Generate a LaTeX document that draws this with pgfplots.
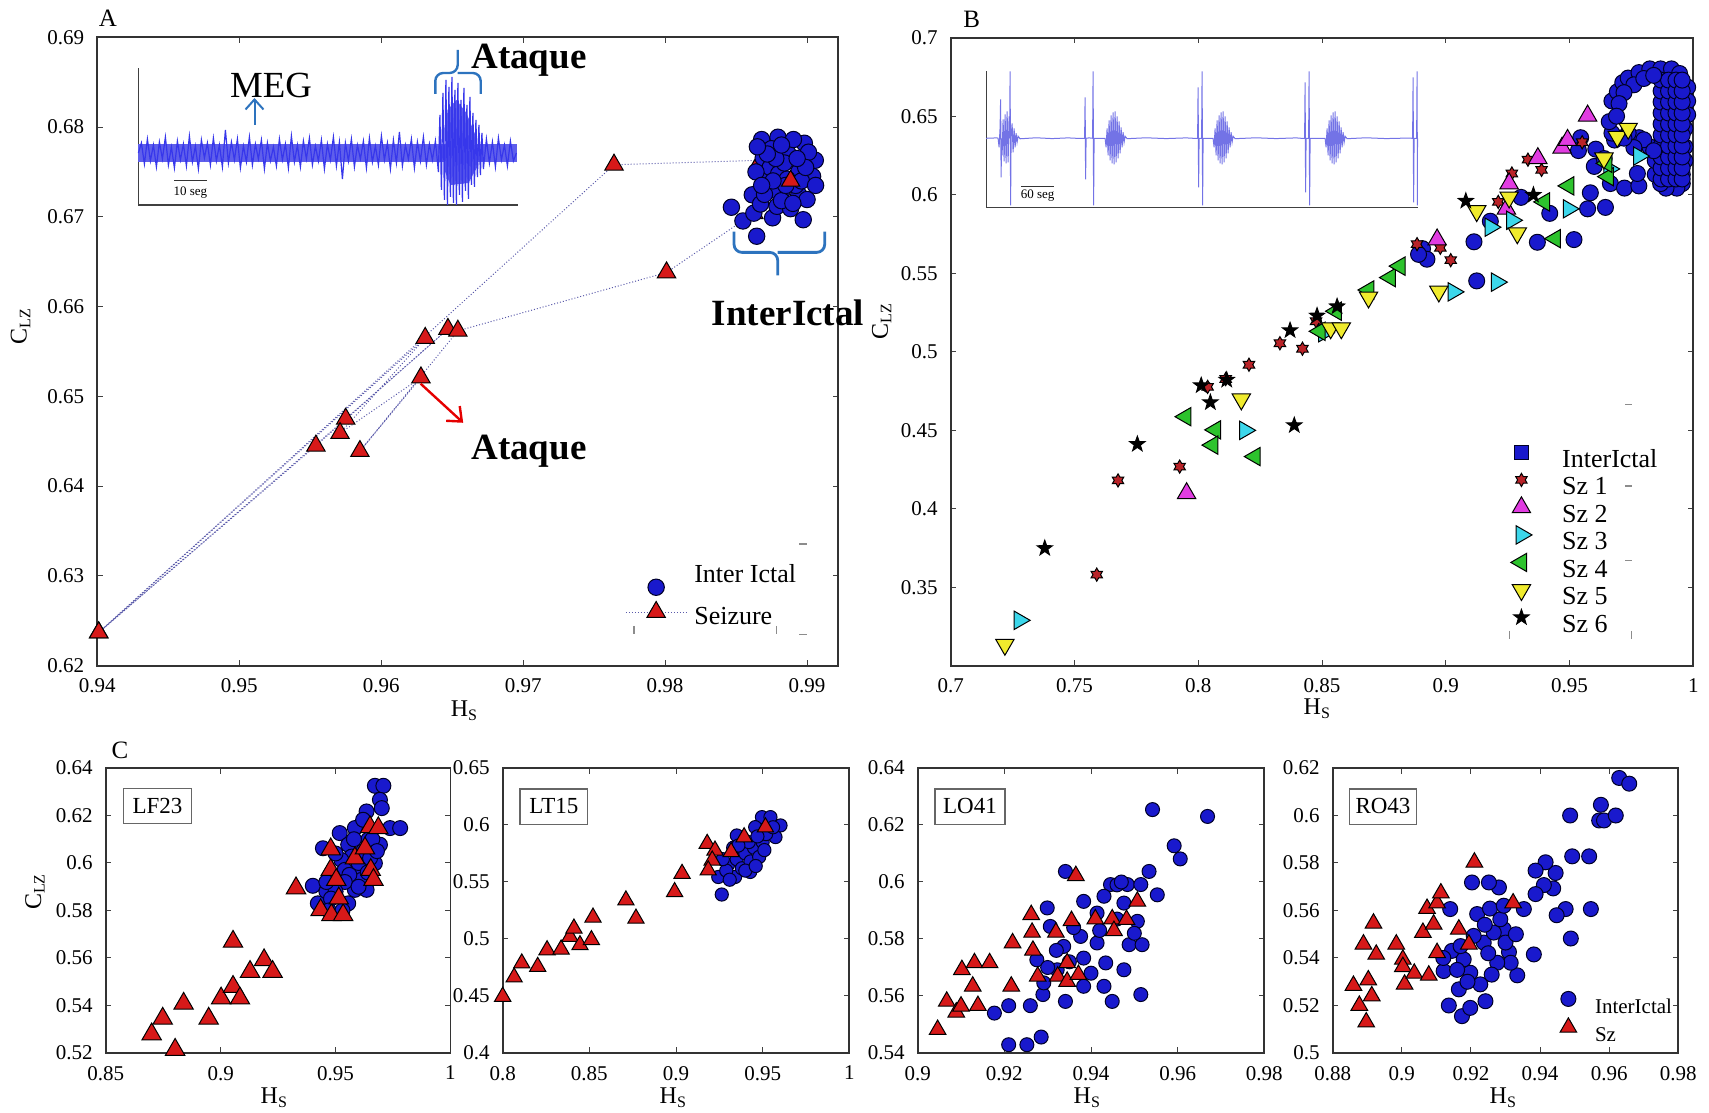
\documentclass[border=0pt]{standalone}
\usepackage{pgfplots}
\pgfplotsset{compat=1.18}
\usepackage{fontspec}
\setmainfont{Liberation Serif}
\usetikzlibrary{arrows.meta}

\definecolor{ibl}{RGB}{25,25,205}
\definecolor{szred}{RGB}{215,25,25}
\definecolor{sza}{RGB}{185,35,40}
\definecolor{szb}{RGB}{225,60,225}
\definecolor{szc}{RGB}{60,215,235}
\definecolor{szd}{RGB}{45,195,45}
\definecolor{sze}{RGB}{240,235,45}
\definecolor{sigA}{RGB}{55,55,235}
\definecolor{sigAfill}{RGB}{95,95,235}
\definecolor{sigB}{RGB}{115,115,230}
\definecolor{annblue}{RGB}{45,115,190}
\definecolor{pathc}{RGB}{90,90,170}

\newcommand\ticksize{\fontsize{10.5}{12}\selectfont}
\newcommand\legfont{\fontsize{13}{15}\selectfont}
\newcommand\legsmall{\fontsize{10.5}{12}\selectfont}
\newcommand\labfont{\fontsize{12}{14}\selectfont}

% six-pointed and five-pointed filled stars
\pgfdeclareplotmark{hexstar}{%
  \pgfpathmoveto{\pgfpointpolar{90}{\pgfplotmarksize}}%
  \pgfpathlineto{\pgfpointpolar{120}{0.577\pgfplotmarksize}}%
  \pgfpathlineto{\pgfpointpolar{150}{\pgfplotmarksize}}%
  \pgfpathlineto{\pgfpointpolar{180}{0.577\pgfplotmarksize}}%
  \pgfpathlineto{\pgfpointpolar{210}{\pgfplotmarksize}}%
  \pgfpathlineto{\pgfpointpolar{240}{0.577\pgfplotmarksize}}%
  \pgfpathlineto{\pgfpointpolar{270}{\pgfplotmarksize}}%
  \pgfpathlineto{\pgfpointpolar{300}{0.577\pgfplotmarksize}}%
  \pgfpathlineto{\pgfpointpolar{330}{\pgfplotmarksize}}%
  \pgfpathlineto{\pgfpointpolar{0}{0.577\pgfplotmarksize}}%
  \pgfpathlineto{\pgfpointpolar{30}{\pgfplotmarksize}}%
  \pgfpathlineto{\pgfpointpolar{60}{0.577\pgfplotmarksize}}%
  \pgfpathclose
  \pgfusepathqfillstroke
}
\pgfdeclareplotmark{pentstar}{%
  \pgfpathmoveto{\pgfpointpolar{90}{\pgfplotmarksize}}%
  \pgfpathlineto{\pgfpointpolar{126}{0.4\pgfplotmarksize}}%
  \pgfpathlineto{\pgfpointpolar{162}{\pgfplotmarksize}}%
  \pgfpathlineto{\pgfpointpolar{198}{0.4\pgfplotmarksize}}%
  \pgfpathlineto{\pgfpointpolar{234}{\pgfplotmarksize}}%
  \pgfpathlineto{\pgfpointpolar{270}{0.4\pgfplotmarksize}}%
  \pgfpathlineto{\pgfpointpolar{306}{\pgfplotmarksize}}%
  \pgfpathlineto{\pgfpointpolar{342}{0.4\pgfplotmarksize}}%
  \pgfpathlineto{\pgfpointpolar{18}{\pgfplotmarksize}}%
  \pgfpathlineto{\pgfpointpolar{54}{0.4\pgfplotmarksize}}%
  \pgfpathclose
  \pgfusepathqfillstroke
}

\pgfplotsset{
  panel/.style={scale only axis, anchor=south west, clip=false,
    axis line style={black!80,line width=0.9pt},
    tick align=inside, tick style={black!75,line width=0.5pt}, major tick length=2.8pt,
    tick label style={font=\ticksize},
    /pgf/number format/assume math mode=true, /pgf/number format/fixed,
    scaled ticks=false,
    xticklabel style={yshift=-3pt}, yticklabel style={xshift=-3pt}},
  inter/.style={only marks, mark=*, mark size=#1,
    mark options={fill=ibl, draw=black!85!blue, line width=0.5pt}},
  sztri/.style={only marks, mark=triangle*, mark size=#1,
    mark options={fill=szred, draw=black, line width=0.5pt}},
  sz/.style n args={3}{only marks, mark size=#2,
    mark options={fill=#1, draw=black, line width=0.5pt, rotate=#3}},
  inset/.style={scale only axis, anchor=south west, clip=false,
    axis x line*=bottom, axis y line*=left, xtick=\empty, ytick=\empty,
    axis line style={black!75,line width=0.6pt}},
}

\begin{document}
\begin{tikzpicture}
\useasboundingbox (0,0) rectangle (854.5pt,556.5pt);

% ---------------- A ----------------
\begin{axis}[panel, at={(48.65pt,223.65pt)}, width=370.5pt, height=314.2pt,
  xmin=0.94, xmax=0.9922, ymin=0.62, ymax=0.69,
  xtick={0.94,0.95,0.96,0.97,0.98,0.99},
  ytick={0.62,0.63,0.64,0.65,0.66,0.67,0.68,0.69},
  legend style={at={(axis cs:0.977244,0.631385)}, anchor=north west, draw=none, fill=none,
    inner sep=0pt, outer sep=0pt, row sep=7.65pt, column sep=4pt, font=\legfont,
    nodes={inner sep=0pt, text height=9.3pt, text depth=4.45pt}},
  legend cell align=left]
% seizure trajectory
\addplot[pathc, densely dotted, line width=0.5pt, mark=triangle*, mark size=5.3pt,
  mark options={solid, fill=szred, draw=black, line width=0.5pt}, forget plot]
  coordinates {(0.98672,0.67630)(0.97640,0.67580)(0.94010,0.62370)(0.95540,0.64450)
  (0.96470,0.65750)(0.95750,0.64750)(0.94010,0.62370)(0.96310,0.65650)(0.95710,0.64590)
  (0.96280,0.65210)(0.95850,0.64390)(0.96540,0.65730)(0.98010,0.66380)(0.98625,0.67040)};
% inter-ictal cluster
\addplot[inter=4.1pt, legend image code/.code={%
    \path[draw=none,fill=none] (0cm,-4pt) rectangle (1.06cm,4pt);
    \begin{pgfinterruptboundingbox}\draw[yshift=-5pt] plot coordinates {(0.53cm,0cm)};\end{pgfinterruptboundingbox}}]
  coordinates {(0.98467,0.67107)(0.98548,0.66954)(0.98625,0.67041)(0.98645,0.66784)
  (0.98757,0.66989)(0.98973,0.66968)(0.98614,0.67245)(0.98680,0.67861)(0.98795,0.67887)
  (0.98981,0.67820)(0.99058,0.67630)(0.98691,0.67656)(0.98865,0.67707)(0.98942,0.67502)
  (0.99039,0.67451)(0.98710,0.67399)(0.98826,0.67296)(0.98942,0.67245)(0.98672,0.67143)
  (0.98788,0.67117)(0.98884,0.67091)(0.99000,0.67193)(0.98749,0.67759)(0.98904,0.67861)
  (0.99010,0.67720)(0.98740,0.67550)(0.98800,0.67480)(0.98860,0.67420)(0.98920,0.67350)
  (0.98760,0.67300)(0.98700,0.67250)(0.98820,0.67180)(0.98900,0.67150)(0.98960,0.67400)
  (0.98840,0.67600)(0.98780,0.67650)(0.98720,0.67700)(0.98640,0.67500)(0.98990,0.67550)
  (0.98850,0.67350)(0.98760,0.67400)(0.98680,0.67350)(0.98930,0.67650)(0.98820,0.67800)
  (0.98650,0.67780)(0.99060,0.67350)};
\addlegendentry{Inter Ictal}
\addplot[pathc, densely dotted, line width=0.5pt, mark=triangle*, mark size=5.3pt,
  mark options={solid, fill=szred, draw=black, line width=0.5pt},
  legend image code/.code={%
    \path[draw=none,fill=none] (0cm,-4pt) rectangle (1.06cm,4pt);
    \begin{pgfinterruptboundingbox}\draw[yshift=4pt, mark repeat=2, mark phase=2] plot coordinates {(0cm,0cm)(0.53cm,0cm)(1.06cm,0cm)};\end{pgfinterruptboundingbox}}]
  coordinates {(0.98884,0.67400)};
\addlegendentry{Seizure}
\end{axis}

% MEG trace
\begin{axis}[inset, at={(69.2pt,454pt)}, width=189.8pt, height=68.4pt,
  xmin=0, xmax=379.6, ymin=0, ymax=136.8]
\addplot[draw=none, fill=sigAfill] coordinates {(0,43)(379,43)(379,61)(0,61)};
\addplot[draw=none, fill=sigAfill] coordinates {(306,35)(309,95)(318,105)(328,92)(337,70)(340,40)(330,22)(312,20)};
\addplot[sigA, line width=0.6pt] coordinates {
(0,52)(3,62)(6,41)(9,66)(12,44)(15,60)(18,38)(21,63)(24,46)(27,68)(30,40)(33,58)(36,37)(39,64)
(42,45)(45,61)(48,39)(51,69)(54,43)(57,59)(60,36)(63,65)(66,47)(69,62)(72,40)(75,67)(78,44)
(81,60)(84,38)(87,75)(90,42)(93,63)(96,45)(99,66)(102,37)(105,59)(108,43)(111,68)(114,40)
(117,61)(120,46)(123,65)(126,36)(129,62)(132,44)(135,58)(138,39)(141,66)(144,45)(147,61)
(150,37)(153,69)(156,43)(159,60)(162,38)(165,64)(168,46)(171,67)(174,40)(177,59)(180,44)
(183,65)(186,36)(189,61)(192,45)(195,68)(198,39)(201,63)(204,26)(207,62)(210,44)(213,66)
(216,38)(219,60)(222,46)(225,64)(228,37)(231,67)(234,43)(237,59)(240,40)(243,69)(246,45)
(249,62)(252,36)(255,65)(258,42)(261,73)(264,39)(267,60)(270,46)(273,66)(276,37)(279,63)
(282,44)(285,68)(288,40)(291,61)(294,45)(297,64)
(300,33)(301.5,90)(303,15)(304.5,112)(306,5)(307.5,125)(309,0)(310.5,118)(312,8)(313.5,128)
(315,2)(316.5,115)(318,0)(319.5,122)(321,10)(322.5,105)(324,3)(325.5,117)(327,14)(328.5,100)
(330,6)(331.5,108)(333,20)(334.5,92)(336,18)(337.5,85)(339,28)(340.5,80)(342,30)(343.5,72)(345,36)
(348,66)(351,42)(354,63)(357,38)(360,67)(363,45)(366,60)(369,39)(372,64)(375,44)(378,52)};
\end{axis}

% ---------------- B ----------------
\begin{axis}[panel, at={(475.35pt,223.65pt)}, width=371.3pt, height=314pt,
  xmin=0.7, xmax=1, ymin=0.3, ymax=0.7,
  xtick={0.7,0.75,0.8,0.85,0.9,0.95,1},
  ytick={0.35,0.4,0.45,0.5,0.55,0.6,0.65,0.7},
  legend style={at={(axis cs:0.92482,0.43822)}, anchor=north west, draw=none, fill=none,
    inner sep=0pt, outer sep=0pt, row sep=0pt, column sep=13.25pt, font=\legfont,
    nodes={inner sep=0pt, text height=9.3pt, text depth=4.45pt}},
  legend cell align=left,
  legend image code/.code={%
    \path[draw=none,fill=none] (0cm,-4pt) rectangle (0.5cm,4pt);
    \begin{pgfinterruptboundingbox}\draw[yshift=5pt] plot coordinates {(0.25cm,0cm)};\end{pgfinterruptboundingbox}}]
\addplot[inter=4pt, legend image code/.code={%
    \path[draw=none,fill=none] (0cm,-4pt) rectangle (0.5cm,4pt);
    \begin{pgfinterruptboundingbox}\draw[yshift=5pt, mark=square*, mark size=3.6pt] plot coordinates {(0.25cm,0cm)};\end{pgfinterruptboundingbox}}]
  coordinates {(0.8906,0.5656)(0.8924,0.5589)(0.8890,0.5620)(0.9114,0.5700)(0.9125,0.5451)
  (0.9180,0.5831)(0.9304,0.5983)(0.9370,0.5697)(0.9420,0.5881)(0.9518,0.5714)(0.9545,0.6363)
  (0.9584,0.6012)(0.9573,0.5910)(0.9645,0.5919)(0.9665,0.6071)(0.9722,0.6042)(0.9780,0.6056)
  (0.9774,0.6135)(0.9606,0.6290)(0.9536,0.6281)(0.9682,0.6348)(0.9600,0.6180)(0.9640,0.6230)
  (0.96713,0.63922)(0.96604,0.64653)(0.96713,0.65968)(0.96932,0.66552)(0.97150,0.67136)
  (0.97369,0.67429)(0.97806,0.67779)(0.98243,0.68013)(0.98680,0.68013)(0.99118,0.68013)
  (0.99445,0.67721)(0.99773,0.66844)(0.99773,0.65968)(0.99773,0.65091)(0.99664,0.64214)
  (0.99664,0.63046)(0.99664,0.62169)(0.99555,0.61292)(0.99555,0.60708)(0.99336,0.60416)
  (0.98899,0.60416)(0.98680,0.60708)(0.98462,0.61292)(0.98462,0.62169)(0.98243,0.63046)
  (0.97806,0.63630)(0.97369,0.63922)
  (0.9870,0.610)(0.9870,0.617)(0.9870,0.624)(0.9870,0.631)(0.9870,0.638)(0.9870,0.645)(0.9870,0.652)(0.9870,0.659)(0.9870,0.666)(0.9870,0.673)
  (0.9900,0.610)(0.9900,0.617)(0.9900,0.624)(0.9900,0.631)(0.9900,0.638)(0.9900,0.645)(0.9900,0.652)(0.9900,0.659)(0.9900,0.666)(0.9900,0.673)
  (0.9930,0.610)(0.9930,0.617)(0.9930,0.624)(0.9930,0.631)(0.9930,0.638)(0.9930,0.645)(0.9930,0.652)(0.9930,0.659)(0.9930,0.666)(0.9930,0.673)
  (0.9955,0.610)(0.9955,0.617)(0.9955,0.624)(0.9955,0.631)(0.9955,0.638)(0.9955,0.645)(0.9955,0.652)(0.9955,0.659)(0.9955,0.666)(0.9955,0.673)
  (0.9760,0.6700)(0.9800,0.6740)(0.9840,0.6760)(0.9720,0.6650)(0.9700,0.6580)(0.9690,0.6500)
  (0.9800,0.6350)(0.9760,0.6300)(0.9720,0.6360)(0.9840,0.6280)};
\addlegendentry{InterIctal}
\addplot[sz={sza}{3.3pt}{0}, mark=hexstar]
  coordinates {(0.7590,0.3580)(0.7676,0.4180)(0.7925,0.4268)(0.8038,0.4776)(0.8111,0.4826)
  (0.8205,0.4917)(0.8330,0.5054)(0.8421,0.5019)(0.8476,0.5194)(0.8884,0.5685)(0.8978,0.5662)
  (0.9020,0.5583)(0.9212,0.5954)(0.9267,0.6135)(0.9332,0.6223)(0.9387,0.6158)(0.9551,0.6334)};
\addlegendentry{Sz 1}
\addplot[sz={szb}{5.3pt}{0}, mark=triangle*]
  coordinates {(0.7953,0.4098)(0.8965,0.5714)(0.9256,0.6071)(0.9245,0.5910)(0.9372,0.6232)
  (0.9470,0.6299)(0.9492,0.6348)(0.9573,0.6503)};
\addlegendentry{Sz 2}
\addplot[sz={szc}{5.3pt}{-90}, mark=triangle*]
  coordinates {(0.7278,0.3289)(0.8189,0.4499)(0.8508,0.5121)(0.9031,0.5381)(0.9206,0.5443)
  (0.9180,0.5793)(0.9267,0.5837)(0.9496,0.5910)(0.9660,0.6164)(0.9780,0.6246)};
\addlegendentry{Sz 3}
\addplot[sz={szd}{5.3pt}{90}, mark=triangle*]
  coordinates {(0.7949,0.4586)(0.8069,0.4502)(0.8058,0.4405)(0.8229,0.4332)(0.8688,0.5393)
  (0.8775,0.5472)(0.8814,0.5545)(0.8557,0.5258)(0.8491,0.5130)(0.9442,0.5720)(0.9496,0.6056)
  (0.9398,0.5954)(0.9656,0.6115)(0.9650,0.6200)};
\addlegendentry{Sz 4}
\addplot[sz={sze}{5.3pt}{180}, mark=triangle*]
  coordinates {(0.7219,0.3134)(0.8174,0.4697)(0.8688,0.5346)(0.8535,0.5150)(0.8578,0.5150)
  (0.8972,0.5384)(0.9125,0.5896)(0.9256,0.5983)(0.9289,0.5755)(0.9693,0.6369)(0.9737,0.6421)
  (0.9639,0.6232)};
\addlegendentry{Sz 5}
\addplot[sz={black}{4pt}{0}, mark=pentstar]
  coordinates {(0.7380,0.3748)(0.7754,0.4411)(0.8012,0.4785)(0.8049,0.4677)(0.8115,0.4820)
  (0.8388,0.4531)(0.8371,0.5136)(0.8480,0.5229)(0.8561,0.5288)(0.9081,0.5960)(0.9354,0.5998)};
\addlegendentry{Sz 6}
\end{axis}

% recurrent seizure trace
\begin{axis}[inset, at={(493.05pt,452.85pt)}, width=215.7pt, height=68.1pt,
  xmin=0, xmax=431.4, ymin=0, ymax=136.2]
\addplot[sigB, line width=0.5pt] coordinates {
(0,69)(11,69.4)
(12,69)(13,60)(14,80)(14.5,108)(15,30)(15.5,69)(16,52)(17,88)(18,46)(19,93)(20,44)(21,96)(22,45)(23,91)(23.5,69)(24,136)(24.5,2)(25,69)(26,84)(27,55)(28,79)(29,60)(30,74)(31,65)(32,71)(34,68.5)
(50,69.5)(66,68.7)(82,69.4)(94,68.8)
(98.5,69)(99,110)(99.5,28)(100,69)(103,69.4)(106.5,69)(107,136)(107.5,2)(108,69)(116,68.8)
(119,69)(120,60)(121,79)(122,52)(123,87)(124,47)(125,92)(126,44)(127,95)(128,43)(129,96)(130,45)(131,91)(132,49)(133,86)(134,54)(135,80)(136,60)(137,75)(138,65)(139,71)(141,68.6)
(160,69.5)(180,68.7)(200,69.4)(207,69)
(211.5,69)(212,120)(212.5,20)(213,69)(215.5,69)(216,136)(216.5,2)(217,69)(224,68.8)
(227,69)(228,60)(229,79)(230,52)(231,87)(232,47)(233,92)(234,44)(235,95)(236,43)(237,96)(238,45)(239,91)(240,49)(241,86)(242,54)(243,80)(244,60)(245,75)(246,65)(247,71)(249,68.6)
(270,69.5)(290,68.7)(310,69.4)(315,69)
(318.5,69)(319,125)(319.5,15)(320,69)(322.5,69)(323,136)(323.5,2)(324,69)(335,68.8)
(339,69)(340,60)(341,79)(342,52)(343,87)(344,47)(345,92)(346,44)(347,95)(348,43)(349,96)(350,45)(351,91)(352,49)(353,86)(354,54)(355,80)(356,60)(357,75)(358,65)(359,71)(361,68.6)
(380,69.5)(400,68.7)(421,69.2)
(426.5,69)(427,130)(427.5,5)(428,69)(430.5,69)(431,136)(431.3,2)(431.4,69)};
\end{axis}

% ---------------- C: LF23 ----------------
\begin{axis}[panel, at={(52.85pt,30pt)}, width=172.4pt, height=142.5pt,
  xmin=0.85, xmax=1, ymin=0.52, ymax=0.64,
  xtick={0.85,0.9,0.95,1}, ytick={0.52,0.54,0.56,0.58,0.6,0.62,0.64}]
\addplot[inter=3.75pt] coordinates {(0.9671,0.6325)(0.9708,0.6325)(0.9693,0.6266)(0.9701,0.6231)
  (0.9635,0.6217)(0.9737,0.6147)(0.9781,0.6147)(0.9518,0.6126)(0.9584,0.6147)(0.9620,0.6182)
  (0.9693,0.6077)(0.9555,0.6077)(0.9570,0.6027)(0.9525,0.6013)(0.9540,0.5971)(0.9598,0.5971)
  (0.9613,0.5929)(0.9584,0.5887)(0.9635,0.5887)(0.9401,0.5904)(0.9460,0.5880)(0.9423,0.5830)
  (0.9555,0.5830)(0.9671,0.5999)(0.9642,0.6098)(0.9445,0.6062)(0.9560,0.5950)(0.9600,0.6000)
  (0.9620,0.6050)(0.9580,0.6100)(0.9650,0.6020)(0.9540,0.5920)(0.9500,0.5880)(0.9480,0.5850)
  (0.9470,0.5800)(0.9530,0.5800)(0.9660,0.6100)(0.9680,0.6050)(0.9640,0.5960)(0.9600,0.5900)
  (0.9500,0.6040)(0.9460,0.5920)};
\addplot[sztri=5.6pt] coordinates {(0.8700,0.5279)(0.8748,0.5345)(0.8802,0.5214)(0.8839,0.5408)
  (0.8948,0.5345)(0.9002,0.5430)(0.9054,0.5669)(0.9054,0.5479)(0.9084,0.5430)(0.9128,0.5542)
  (0.9189,0.5591)(0.9226,0.5542)(0.9328,0.5894)(0.9435,0.5802)(0.9482,0.5781)(0.9533,0.5781)
  (0.9514,0.5851)(0.9479,0.6058)(0.9479,0.5971)(0.9503,0.5929)(0.9584,0.6020)(0.9628,0.6062)
  (0.9650,0.6151)(0.9686,0.6147)(0.9653,0.5971)(0.9665,0.5929)};
\end{axis}

% ---------------- C: LT15 ----------------
\begin{axis}[panel, at={(251.35pt,30pt)}, width=173.3pt, height=142.5pt,
  xmin=0.8, xmax=1, ymin=0.4, ymax=0.65,
  xtick={0.8,0.85,0.9,0.95,1}, ytick={0.4,0.45,0.5,0.55,0.6,0.65}]
\addplot[inter=3.3pt] coordinates {(0.9264,0.5390)(0.9244,0.5544)(0.9341,0.5544)(0.9428,0.5588)
  (0.9351,0.5908)(0.9496,0.6069)(0.9545,0.6069)(0.9603,0.5996)(0.9574,0.5894)(0.9457,0.5981)
  (0.9300,0.5650)(0.9350,0.5700)(0.9400,0.5750)(0.9450,0.5800)(0.9500,0.5850)(0.9380,0.5620)
  (0.9430,0.5680)(0.9480,0.5720)(0.9330,0.5800)(0.9420,0.5850)(0.9520,0.5920)(0.9560,0.5980)
  (0.9470,0.5900)(0.9290,0.5600)(0.9360,0.5820)(0.9400,0.5600)(0.9460,0.5640)(0.9510,0.5780)
  (0.9270,0.5700)(0.9310,0.5520)};
\addplot[sztri=4.7pt] coordinates {(0.8000,0.4495)(0.8066,0.4664)(0.8110,0.4787)(0.8202,0.4757)
  (0.8256,0.4903)(0.8337,0.4909)(0.8388,0.5020)(0.8411,0.5093)(0.8446,0.4947)(0.8512,0.4991)
  (0.8521,0.5189)(0.8711,0.5340)(0.8769,0.5180)(0.8992,0.5413)(0.9035,0.5573)(0.9180,0.5836)
  (0.9225,0.5777)(0.9209,0.5690)(0.9186,0.5603)(0.9318,0.5763)(0.9393,0.5894)(0.9516,0.5981)};
\end{axis}

% ---------------- C: LO41 ----------------
\begin{axis}[panel, at={(458.85pt,30pt)}, width=173.3pt, height=142.5pt,
  xmin=0.9, xmax=0.98, ymin=0.54, ymax=0.64,
  xtick={0.9,0.92,0.94,0.96,0.98}, ytick={0.54,0.56,0.58,0.6,0.62,0.64}]
\addplot[inter=3.5pt] coordinates {(0.9210,0.5429)(0.9252,0.5429)(0.9285,0.5456)(0.9210,0.5566)
  (0.9177,0.5540)(0.9260,0.5566)(0.9289,0.5605)(0.9299,0.5909)(0.9341,0.6037)(0.9341,0.5581)
  (0.9383,0.5932)(0.9383,0.5733)(0.9383,0.5634)(0.9430,0.5634)(0.9449,0.5581)(0.9434,0.5716)
  (0.9476,0.5692)(0.9445,0.5991)(0.9484,0.5991)(0.9430,0.5950)(0.9515,0.5605)(0.9488,0.5780)
  (0.9518,0.5780)(0.9507,0.5862)(0.9515,0.5991)(0.9534,0.6037)(0.9553,0.5955)(0.9542,0.6254)
  (0.9592,0.6127)(0.9606,0.6081)(0.9669,0.6230)(0.9306,0.5844)(0.9275,0.5727)(0.9337,0.5774)
  (0.9376,0.5809)(0.9414,0.5786)(0.9322,0.5692)(0.9291,0.5646)(0.9414,0.5891)(0.9476,0.5926)
  (0.9360,0.5840)(0.9350,0.5720)(0.9400,0.5680)(0.9420,0.5830)(0.9460,0.5870)(0.9320,0.5760)
  (0.9300,0.5700)(0.9500,0.5820)(0.9460,0.5990)(0.9470,0.6000)};
\addplot[sztri=4.8pt] coordinates {(0.9046,0.5482)(0.9067,0.5581)(0.9089,0.5543)(0.9100,0.5564)
  (0.9102,0.5692)(0.9127,0.5634)(0.9131,0.5716)(0.9139,0.5566)(0.9166,0.5716)(0.9216,0.5634)
  (0.9219,0.5786)(0.9262,0.5885)(0.9264,0.5823)(0.9266,0.5760)(0.9277,0.5669)(0.9319,0.5823)
  (0.9323,0.5669)(0.9345,0.5716)(0.9345,0.5651)(0.9355,0.5864)(0.9365,0.6022)(0.9371,0.5675)
  (0.9410,0.5870)(0.9449,0.5870)(0.9453,0.5829)(0.9482,0.5868)(0.9507,0.5932)};
\end{axis}

% ---------------- C: RO43 ----------------
\begin{axis}[panel, at={(666.35pt,30pt)}, width=172.8pt, height=142.5pt,
  xmin=0.88, xmax=0.98, ymin=0.5, ymax=0.62,
  xtick={0.88,0.9,0.92,0.94,0.96,0.98}, ytick={0.5,0.52,0.54,0.56,0.58,0.6,0.62},
  legend style={at={(axis cs:0.9449,0.52306)}, anchor=north west, draw=none, fill=none,
    inner sep=0pt, outer sep=0pt, row sep=3.75pt, column sep=7.65pt, font=\legsmall,
    nodes={inner sep=0pt, text height=7.5pt, text depth=3pt}},
  legend cell align=left,
  legend image code/.code={%
    \path[draw=none,fill=none] (0cm,-3pt) rectangle (0.4cm,3pt);
    \begin{pgfinterruptboundingbox}\draw[yshift=4.9pt] plot coordinates {(0.2cm,0cm)};\end{pgfinterruptboundingbox}}]
\addplot[inter=3.75pt] coordinates {(0.9629,0.6158)(0.9658,0.6134)(0.9487,0.6000)(0.9576,0.6045)
  (0.9571,0.5979)(0.9585,0.5979)(0.9619,0.6000)(0.9493,0.5828)(0.9542,0.5828)(0.9547,0.5606)
  (0.9489,0.5482)(0.9474,0.5606)(0.9448,0.5580)(0.9445,0.5758)(0.9438,0.5693)(0.9416,0.5803)
  (0.9387,0.5768)(0.9382,0.5415)(0.9411,0.5707)(0.9387,0.5669)(0.9353,0.5606)(0.9334,0.5327)
  (0.9310,0.5425)(0.9295,0.5521)(0.9281,0.5697)(0.9252,0.5718)(0.9203,0.5718)(0.9218,0.5585)
  (0.9255,0.5608)(0.9140,0.5606)(0.9145,0.5430)(0.9121,0.5345)(0.9136,0.5200)(0.9165,0.5268)
  (0.9174,0.5155)(0.9198,0.5190)(0.9227,0.5289)(0.9242,0.5218)(0.9198,0.5338)(0.9179,0.5394)
  (0.9237,0.5465)(0.9266,0.5507)(0.9285,0.5563)(0.9300,0.5465)(0.9315,0.5380)(0.9276,0.5380)
  (0.9295,0.5620)(0.9208,0.5493)(0.9160,0.5350)(0.9190,0.5300)(0.9250,0.5420)(0.9260,0.5330)
  (0.9170,0.5450)(0.9240,0.5540)(0.9330,0.5500)(0.9120,0.5400)};
\addlegendentry{InterIctal}
\addplot[sztri=4.8pt] coordinates {(0.8860,0.5284)(0.8877,0.5200)(0.8897,0.5130)(0.8889,0.5458)
  (0.8903,0.5307)(0.8913,0.5240)(0.8918,0.5546)(0.8926,0.5415)(0.8984,0.5458)(0.9003,0.5394)
  (0.9003,0.5363)(0.9008,0.5289)(0.9036,0.5335)(0.9061,0.5507)(0.9073,0.5608)(0.9078,0.5327)
  (0.9092,0.5542)(0.9102,0.5422)(0.9102,0.5631)(0.9113,0.5673)(0.9165,0.5521)(0.9194,0.5458)
  (0.9210,0.5803)(0.9322,0.5631)};
\addlegendentry{Sz}
\end{axis}

% ---------------- labels and annotations (pixel grid) ----------------
\begin{scope}[x=0.5pt, y=-0.5pt, yshift=556.5pt]
  \node[font=\fontsize{12.5}{14}\selectfont] at (108,18) {A};
  \node[font=\fontsize{12.5}{14}\selectfont] at (971.7,19) {B};
  \node[font=\fontsize{12.5}{14}\selectfont] at (120,750) {C};
  % axis titles
  \begin{scope}[every node/.style={font=\labfont, inner sep=0.5pt}]
    \node at (464.5,711) {H\textsubscript{S}};
    \node[rotate=90] at (20.6,326) {C\textsubscript{LZ}};
    \node at (1317.3,709) {H\textsubscript{S}};
    \node[rotate=90] at (881.6,321) {C\textsubscript{LZ}};
    \node[rotate=90] at (35,891.7) {C\textsubscript{LZ}};
    \node at (274.3,1097.5) {H\textsubscript{S}};
    \node at (673.3,1097.5) {H\textsubscript{S}};
    \node at (1087.3,1097.5) {H\textsubscript{S}};
    \node at (1503.3,1098) {H\textsubscript{S}};
  \end{scope}
  % channel tags
  \begin{scope}[font=\fontsize{11.5}{13}\selectfont]
    \draw[black!60, line width=0.6pt] (123.3,788.3) rectangle (191.7,823.3);
    \node at (157.5,806) {LF23};
    \draw[black!60, line width=0.6pt] (520,789) rectangle (587.7,824.3);
    \node at (553.9,806.5) {LT15};
    \draw[black!60, line width=0.6pt] (935,789) rectangle (1005,824.3);
    \node at (970,806.5) {LO41};
    \draw[black!60, line width=0.6pt] (1349.3,789) rectangle (1416.7,824.3);
    \node at (1383,806.5) {RO43};
  \end{scope}
  % scale bars of the traces
  \draw[black!80, line width=0.5pt] (174,181) -- (207,181);
  \node[font=\fontsize{6.5}{7}\selectfont] at (190.4,192.5) {10 seg};
  \draw[black!80, line width=0.5pt] (1021,187) -- (1054,187);
  \node[font=\fontsize{6.5}{7}\selectfont] at (1037.6,196) {60 seg};
  % annotations of panel A
  \node[font=\fontsize{18.4}{20}\selectfont] at (271,85.5) {MEG};
  \draw[annblue, line width=1pt, -{Straight Barb[length=5pt,width=9pt]}] (254.5,125) -- (254.5,98);
  \draw[annblue, line width=1.2pt, rounded corners=4pt] (435.3,94) -- (435.3,73) -- (457.7,73) -- (457.7,50);
  \draw[annblue, line width=1.2pt, rounded corners=4pt] (480.7,94) -- (480.7,73) -- (457.7,73);
  \node[font=\fontsize{18.5}{20}\selectfont\bfseries] at (529,60) {Ataque};
  \draw[annblue, line width=1.4pt, rounded corners=4pt] (734,231.7) -- (734,252.4) -- (777.7,252.4) -- (777.7,275.5);
  \draw[annblue, line width=1.4pt, rounded corners=4pt] (824.7,231.7) -- (824.7,252.4) -- (777.7,252.4);
  \node[font=\fontsize{18.5}{20}\selectfont\bfseries] at (788,313) {InterIctal};
  \draw[red!90!black, line width=1.2pt, -{Straight Barb[length=6pt,width=10pt]}] (420.6,383.7) -- (463.2,422.8);
  \node[font=\fontsize{18.5}{20}\selectfont\bfseries] at (529,451) {Ataque};
  % leftover legend frame marks
  \draw[black!45, line width=0.6pt] (799,544) -- (807,544) (799,634.7) -- (807,634.7)
    (634,626) -- (634,634) (776.5,626) -- (776.5,634);
  \draw[black!45, line width=0.6pt] (1625,404.6) -- (1632,404.6) (1625,486) -- (1632,486)
    (1625,560.6) -- (1632,560.6) (1509.5,631) -- (1509.5,639) (1631.3,631) -- (1631.3,639);
\end{scope}
\end{tikzpicture}
\end{document}
